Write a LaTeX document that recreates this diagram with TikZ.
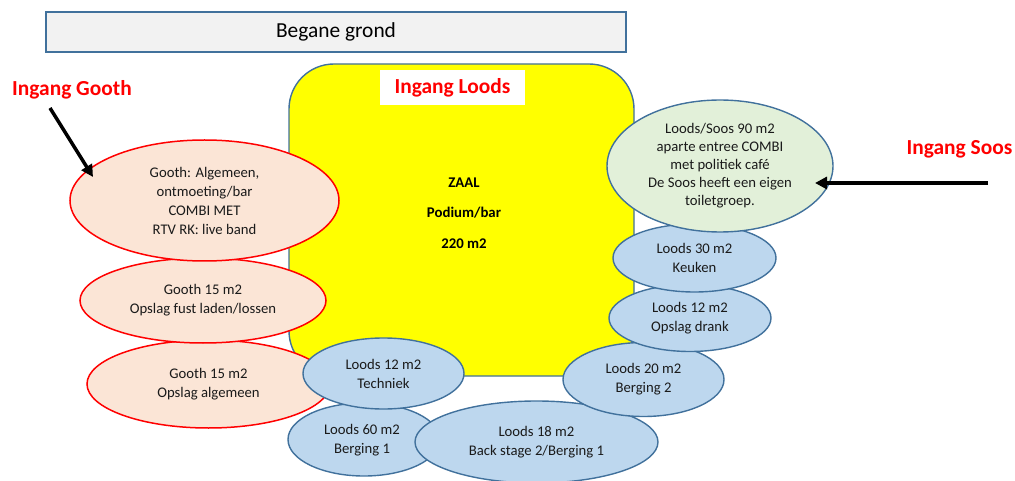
\documentclass[tikz,border=0pt]{standalone}
\usepackage{fontspec}
\setmainfont{Carlito}
\usetikzlibrary{shapes.geometric,arrows.meta}
\definecolor{bord}{HTML}{41719C}
\definecolor{bluef}{HTML}{BDD7EE}
\definecolor{peach}{HTML}{FBE5D6}
\definecolor{greenf}{HTML}{E2F0D9}
\definecolor{titlef}{HTML}{F2F2F2}
\definecolor{txt}{HTML}{1A1A1A}
\definecolor{redt}{HTML}{FF0000}
\definecolor{yel}{HTML}{FFFF00}
\tikzset{
  room/.style={ellipse, inner sep=0pt, align=center, text=txt,
    font=\fontsize{14.7}{19}\selectfont},
  bluerm/.style={room, draw=bord, fill=bluef, line width=1.4pt},
  redrm/.style={room, draw=redt, fill=peach, line width=1.5pt},
  greenrm/.style={room, draw=bord, fill=greenf, line width=1.4pt},
  ingang/.style={text=redt, font=\fontsize{21.4}{24}\selectfont\bfseries},
  entry/.style={-{Triangle[length=12pt,width=12pt]}, line width=3.5pt, black},
}
\begin{document}
\begin{tikzpicture}[x=1pt,y=-1pt]
\useasboundingbox (0,0) rectangle (1015,481);
% title
\node[draw=bord, fill=titlef, line width=1.3pt, minimum width=580pt, minimum height=40pt, inner sep=0pt,
  font=\fontsize{21.4}{24}\selectfont, text=black] (title) at (336,32) {Begane grond};
% zaal
\node[draw=bord, fill=yel, line width=1.4pt, rounded corners=45pt, minimum width=345pt, minimum height=312pt, inner sep=0pt] (zaal) at (461.5,220) {};
\node[fill=white, minimum width=145pt, minimum height=35pt, inner sep=0pt, ingang] (loods) at (452.5,88) {Ingang Loods};
\node[align=center, text=black, font=\fontsize{14.8}{30.5}\selectfont\bfseries] (zaaltxt) at (464,213) {ZAAL\\Podium/bar\\220 m2};
% bottom
\node[bluerm, minimum width=152pt, minimum height=73pt] (berg1) at (364,439.5) {};
\node[room] (berg1txt) at (362,440) {Loods 60 m2\\Berging 1};
\node[bluerm, minimum width=243pt, minimum height=82pt] (back) at (536.5,442) {Loods 18 m2\\Back stage 2/Berging 1};
% left
\node[redrm, minimum width=243pt, minimum height=88pt] (gooth3) at (208.5,384) {Gooth 15 m2\\Opslag algemeen};
\node[redrm, minimum width=246pt, minimum height=85pt] (gooth2) at (203,300.5) {Gooth 15 m2\\Opslag fust laden/lossen};
\node[redrm, minimum width=269pt, minimum height=121pt] (gooth1) at (204.5,200.5) {Gooth: Algemeen,\\ontmoeting/bar\\COMBI MET\\RTV RK: live band};
\node[bluerm, minimum width=161pt, minimum height=71pt] (tech) at (383.5,373.5) {Loods 12 m2\\Techniek};
% right
\node[bluerm, minimum width=161pt, minimum height=74pt] (berg2) at (643.5,379.5) {Loods 20 m2\\Berging 2};
\node[bluerm, minimum width=162pt, minimum height=67pt] (drank) at (690,318) {Loods 12 m2\\Opslag drank};
\node[bluerm, minimum width=163pt, minimum height=68pt] (keuken) at (694.5,258) {Loods 30 m2\\Keuken};
\node[greenrm, minimum width=226pt, minimum height=132pt, font=\fontsize{14.7}{18}\selectfont] (soos) at (720,166) {Loods/Soos 90 m2\\aparte entree COMBI\\met politiek café\\De Soos heeft een eigen\\toiletgroep.};
% entrances
\node[ingang] (ig) at (72,90) {Ingang Gooth};
\node[ingang] (is) at (959.5,149) {Ingang Soos};
\coordinate (gs) at (50,108);
\coordinate (ge) at (93,177);
\coordinate (ss) at (988,183);
\coordinate (se) at (815,183);
\draw[entry] (gs) -- (ge);
\draw[entry] (ss) -- (se);
\end{tikzpicture}
\end{document}
